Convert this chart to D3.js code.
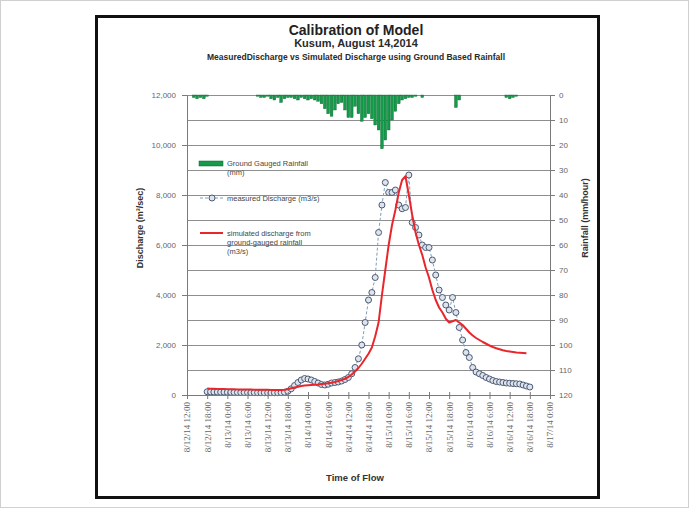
<!DOCTYPE html>
<html>
<head>
<meta charset="utf-8">
<script src="https://cdn.jsdelivr.net/npm/d3@7"></script>
<style>
  html, body { margin: 0; padding: 0; background: #ffffff; }
  svg { display: block; font-family: "Liberation Sans", Arial, sans-serif; }
</style>
</head>
<body>
<div id="chart"></div>
<script>
// ############################################################################
// DATA
// ############################################################################

// time axis: first tick and number of 6-hour steps
const AXIS_START = new Date(2014, 7, 12, 12, 0)
const AXIS_STEPS = 18

// measured discharge (m3/s), hourly from 8/12/14 18:00
const measuredStart = new Date(2014, 7, 12, 18, 0)
const measuredFlow = [
  130, 125, 120, 120, 115, 115, 110, 110, 105, 105, 100, 100,
  100, 95, 95, 95, 90, 90, 90, 90, 90, 90, 95, 110,
  150, 250, 380, 500, 600, 660, 640, 600, 540, 480, 420, 400,
  430, 480, 500, 520, 560, 620, 700, 850, 1100, 1450, 2000, 2900,
  3800, 4100, 4700, 6500, 7600, 8500, 8100, 8100, 8200, 7600, 7450, 7500,
  8800, 6900, 6700, 6400, 6000, 5900, 5900, 5400, 4800, 4200, 3900, 3600,
  3400, 3900, 3300, 2700, 2200, 1700, 1500, 1100, 920, 850, 780, 700,
  640, 580, 540, 520, 500, 480, 470, 460, 450, 440, 400, 360, 320
]

// simulated discharge from ground gauged rainfall (m3/s), hourly from 8/12/14 18:00
const simulatedStart = new Date(2014, 7, 12, 18, 0)
const simulatedFlow = [
  260, 255, 250, 245, 240, 240, 235, 230, 230, 225, 225, 220,
  220, 220, 215, 215, 210, 210, 210, 205, 205, 200, 200, 210,
  230, 270, 300, 330, 360, 380, 390, 400, 410, 420, 440, 450,
  470, 490, 520, 560, 600, 650, 720, 820, 940, 1080, 1250, 1450,
  1650, 1900, 2350, 2900, 4000, 5000, 6000, 6800, 7400, 8100, 8600, 8750,
  8000, 7200, 6500, 6000, 5600, 5100, 4700, 4200, 3800, 3500, 3300, 3050,
  2900, 2950, 3000, 2900, 2800, 2650, 2500, 2380, 2280, 2200, 2120, 2050,
  1980, 1920, 1870, 1830, 1790, 1760, 1740, 1720, 1700, 1690, 1680, 1670
]

// ground gauged rainfall (mm/hour): hour after 8/12/14 12:00 and depth
const rainHour = [
  2, 3, 4, 5, 6,
  21, 22, 23, 24, 25, 26, 27, 28, 29, 30, 31, 32, 33, 34, 35, 36, 37, 38, 39,
  40, 41, 42, 43, 44, 45, 46, 47, 48, 49, 50, 51, 52, 53, 54, 55, 56, 57, 58,
  59, 60, 61, 62, 63, 64, 65, 66, 67, 68, 70,
  80, 81, 95, 96, 97, 98
]
const rainMm = [
  1, 1.5, 1, 1.5, 0.5,
  0.5, 1, 1, 0.5, 1.5, 2, 1, 3, 1.5, 1, 1, 1.5, 2, 1, 1.5, 2, 1.5, 2, 2.5,
  3.5, 5.5, 7.5, 8.5, 6, 3.5, 3, 6, 9, 9, 4.5, 7.5, 10.5, 9, 7.5, 9.5, 12, 14, 21.5,
  18, 14, 10, 6.5, 3.5, 2, 1.5, 1, 1, 0.5, 1,
  5, 2, 1, 1.5, 1, 0.5
]

const dischargeTicks = [0, 2000, 4000, 6000, 8000, 10000, 12000]
const rainfallTicks  = [0, 10, 20, 30, 40, 50, 60, 70, 80, 90, 100, 110, 120]

const titleLines = [
  "Calibration  of Model",
  "Kusum, August 14,2014",
  "MeasuredDischarge vs Simulated Discharge using Ground Based Rainfall"
]
const legendRain      = ["Ground Gauged Rainfall", "(mm)"]
const legendMeasured  = ["measured Discharge (m3/s)"]
const legendSimulated = ["simulated discharge from", "ground-gauged rainfall", "(m3/s)"]


// ############################################################################
// CHART
// ############################################################################

class CalibrationChart
{
  constructor(parentId)
  {
    this._width  = 689
    this._height = 508
    this._plot   = { left: 187, right: 550, top: 95, bottom: 395 }

    this._svg = d3.select("#" + parentId)
      .append("svg")
      .attr("width", this._width)
      .attr("height", this._height)

    this._setupScales()
    this._drawFrame()
    this._drawGrid()
    this._drawRain()
    this._drawMeasured()
    this._drawSimulated()
    this._drawAxes()
    this._drawLegend()
    this._drawTitles()
  }

  // ==========================================================================
  // Scales
  // ==========================================================================

  _setupScales()
  {
    let p = this._plot
    let end = d3.timeHour.offset(AXIS_START, AXIS_STEPS * 6)

    this._x = d3.scaleTime()
      .domain([AXIS_START, end])
      .range([p.left, p.right])

    this._yQ = d3.scaleLinear()
      .domain([0, 12000])
      .range([p.bottom, p.top])

    // rainfall axis is inverted: 0 at the top
    this._yR = d3.scaleLinear()
      .domain([0, 120])
      .range([p.top, p.bottom])
  }

  // ==========================================================================
  // Outer borders
  // ==========================================================================

  _drawFrame()
  {
    this._svg.append("rect")
      .attr("x", 0.5).attr("y", 0.5)
      .attr("width", this._width - 1).attr("height", this._height - 1)
      .attr("fill", "#ffffff")
      .attr("stroke", "#d0d0d0")

    this._svg.append("rect")
      .attr("x", 96.5).attr("y", 16.5)
      .attr("width", 502).attr("height", 481)
      .attr("fill", "none")
      .attr("stroke", "#111111")
      .attr("stroke-width", 3)
  }

  // ==========================================================================
  // Horizontal grid lines every 1000 m3/s
  // ==========================================================================

  _drawGrid()
  {
    let p = this._plot
    let grid = d3.axisLeft(this._yQ)
      .tickValues(d3.range(1000, 12001, 1000))
      .tickSize(-(p.right - p.left))
      .tickFormat("")

    this._svg.append("g")
      .attr("transform", "translate(" + p.left + ",0)")
      .call(grid)
      .call(g => g.select(".domain").remove())
      .call(g => g.selectAll("line")
        .attr("stroke", "#8e8e8e")
        .attr("stroke-width", 1))
  }

  // ==========================================================================
  // Rainfall bars hanging from the top
  // ==========================================================================

  _drawRain()
  {
    let barW = this._x(d3.timeHour.offset(AXIS_START, 1)) - this._x(AXIS_START)

    this._svg.append("g")
      .selectAll("rect")
      .data(rainHour.map((h, i) => ({ t: d3.timeHour.offset(AXIS_START, h), v: rainMm[i] })))
      .join("rect")
      .attr("x", d => this._x(d.t) - barW / 2 + 0.3)
      .attr("y", this._yR(0))
      .attr("width", barW - 0.6)
      .attr("height", d => this._yR(d.v) - this._yR(0))
      .attr("fill", "#15994a")
      .attr("stroke", "#0b6a2e")
      .attr("stroke-width", 0.4)
  }

  // ==========================================================================
  // Measured discharge: dashed line with open circles
  // ==========================================================================

  _drawMeasured()
  {
    let pts = measuredFlow.map((v, i) => ({ t: d3.timeHour.offset(measuredStart, i), v: v }))
    let line = d3.line()
      .x(d => this._x(d.t))
      .y(d => this._yQ(d.v))

    this._svg.append("path")
      .datum(pts)
      .attr("d", line)
      .attr("fill", "none")
      .attr("stroke", "#7f9db8")
      .attr("stroke-width", 1)
      .attr("stroke-dasharray", "3,2")

    this._svg.append("g")
      .selectAll("circle")
      .data(pts)
      .join("circle")
      .attr("cx", d => this._x(d.t))
      .attr("cy", d => this._yQ(d.v))
      .attr("r", 3)
      .attr("fill", "#dfe4ec")
      .attr("stroke", "#4a5a74")
      .attr("stroke-width", 1)
  }

  // ==========================================================================
  // Simulated discharge: red line
  // ==========================================================================

  _drawSimulated()
  {
    let pts = simulatedFlow.map((v, i) => ({ t: d3.timeHour.offset(simulatedStart, i), v: v }))
    let line = d3.line()
      .x(d => this._x(d.t))
      .y(d => this._yQ(d.v))

    this._svg.append("path")
      .datum(pts)
      .attr("d", line)
      .attr("fill", "none")
      .attr("stroke", "#e8262c")
      .attr("stroke-width", 2)
      .attr("stroke-linejoin", "round")
  }

  // ==========================================================================
  // Axes
  // ==========================================================================

  _drawAxes()
  {
    let p = this._plot
    let styleAxis = g => {
      g.select(".domain").attr("stroke", "#7a7a7a")
      g.selectAll(".tick line").attr("stroke", "#7a7a7a")
      g.selectAll(".tick text")
        .attr("fill", "#666666")
        .style("font-size", "8px")
        .style("font-family", "'Liberation Sans', Arial, sans-serif")
    }

    // left: discharge
    this._svg.append("g")
      .attr("transform", "translate(" + p.left + ",0)")
      .call(d3.axisLeft(this._yQ)
        .tickValues(dischargeTicks)
        .tickFormat(d3.format(","))
        .tickSizeInner(5).tickSizeOuter(0).tickPadding(6))
      .call(styleAxis)

    // right: rainfall
    this._svg.append("g")
      .attr("transform", "translate(" + p.right + ",0)")
      .call(d3.axisRight(this._yR)
        .tickValues(rainfallTicks)
        .tickSizeInner(5).tickSizeOuter(0).tickPadding(4))
      .call(styleAxis)

    // bottom: time, labels rotated
    let fmt = d3.timeFormat("%-m/%-d/%y %-H:%M")
    let ticks = d3.range(AXIS_STEPS + 1).map(i => d3.timeHour.offset(AXIS_START, i * 6))
    this._svg.append("g")
      .attr("transform", "translate(0," + p.bottom + ")")
      .call(d3.axisBottom(this._x)
        .tickValues(ticks)
        .tickFormat(fmt)
        .tickSizeInner(4).tickSizeOuter(0))
      .call(styleAxis)
      .call(g => g.selectAll(".tick line").attr("y1", -3))
      .call(g => g.selectAll(".tick text")
        .attr("transform", "rotate(-90)")
        .attr("x", -7)
        .attr("y", 0)
        .attr("dy", "0.32em")
        .attr("text-anchor", "end")
        .style("font-family", "'Liberation Serif', 'Times New Roman', serif")
        .style("font-size", "9px"))

    // axis titles
    this._svg.append("text")
      .attr("transform", "translate(143,228) rotate(-90)")
      .attr("text-anchor", "middle")
      .style("font-size", "9px")
      .style("font-weight", "bold")
      .attr("fill", "#333333")
      .text("Discharge (m³/sec)")

    this._svg.append("text")
      .attr("transform", "translate(588,218) rotate(-90)")
      .attr("text-anchor", "middle")
      .style("font-size", "9px")
      .style("font-weight", "bold")
      .attr("fill", "#333333")
      .text("Rainfall (mm/hour)")

    this._svg.append("text")
      .attr("x", 355)
      .attr("y", 481)
      .attr("text-anchor", "middle")
      .style("font-size", "9.5px")
      .style("font-weight", "bold")
      .attr("fill", "#333333")
      .text("Time of Flow")
  }

  // ==========================================================================
  // Legend inside the plot
  // ==========================================================================

  _drawLegend()
  {
    let g = this._svg.append("g")
    let addLines = (lines, x, y) => {
      g.append("text")
        .attr("x", x).attr("y", y)
        .style("font-size", "7.5px")
        .attr("fill", "#474747")
        .selectAll("tspan")
        .data(lines)
        .join("tspan")
        .attr("x", x)
        .attr("dy", (d, i) => i ? "1.2em" : 0)
        .text(d => d)
    }

    g.append("rect")
      .attr("x", 199).attr("y", 161)
      .attr("width", 24).attr("height", 5)
      .attr("fill", "#15994a")
      .attr("stroke", "#0b6a2e")
      .attr("stroke-width", 0.5)
    addLines(legendRain, 227, 166)

    g.append("line")
      .attr("x1", 200).attr("x2", 223).attr("y1", 198).attr("y2", 198)
      .attr("stroke", "#7f9db8")
      .attr("stroke-dasharray", "3,2")
    g.append("circle")
      .attr("cx", 212).attr("cy", 198).attr("r", 3)
      .attr("fill", "#dfe4ec")
      .attr("stroke", "#4a5a74")
    addLines(legendMeasured, 227, 201)

    g.append("line")
      .attr("x1", 200).attr("x2", 223).attr("y1", 233).attr("y2", 233)
      .attr("stroke", "#e8262c")
      .attr("stroke-width", 2)
    addLines(legendSimulated, 227, 236)
  }

  // ==========================================================================
  // Titles
  // ==========================================================================

  _drawTitles()
  {
    let sizes = [14, 11, 8.5]
    let ys    = [35, 47, 60]

    titleLines.forEach((t, i) => {
      this._svg.append("text")
        .attr("x", 356)
        .attr("y", ys[i])
        .attr("text-anchor", "middle")
        .style("font-size", sizes[i] + "px")
        .style("font-weight", "bold")
        .attr("fill", i ? "#2a2a2a" : "#222222")
        .text(t)
    })
  }
}

new CalibrationChart("chart")
</script>
</body>
</html>
